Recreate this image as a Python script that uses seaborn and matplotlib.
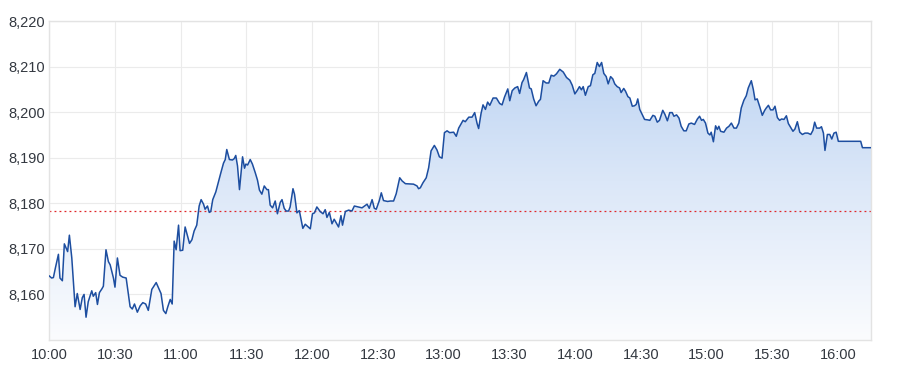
import numpy as np
import pandas as pd
import matplotlib
matplotlib.use("Agg")
import matplotlib.pyplot as plt
import seaborn as sns
from matplotlib.colors import LinearSegmentedColormap

# minutes after 10:00
minutes = [
    0, 1.2, 2.0, 3.0, 4.3, 5.0, 6.1, 7.0, 8.5, 9.3, 10.4, 11.9, 12.9, 14.2, 15.2, 16.0, 16.9, 17.9, 19.5, 20.2,
    21.3, 22.1, 23.0, 24.1, 24.8, 26.0, 27.1, 27.9, 29.4, 30.1, 31.2, 32.4, 33.6, 35.2, 37.0, 38.0, 39.0, 40.3, 41.6, 42.8,
    44.1, 45.3, 46.9, 48.9, 50.2, 51.1, 52.2, 53.3, 54.2, 55.3, 56.2, 57.1, 58.0, 59.1, 59.8, 61.0, 62.1, 64.1, 65.2, 66.2,
    67.4, 68.5, 69.4, 70.5, 71.2, 72.3, 73.1, 73.8, 74.7, 76.1, 77.3, 78.4, 79.6, 80.4, 81.1, 82.3, 83.7, 84.5, 85.2, 86.0,
    86.9, 88.3, 89.2, 89.8, 90.6, 91.8, 92.8, 94.1, 95.1, 96.0, 97.1, 98.2, 99.4, 100.1, 100.9, 102.0, 103.2, 104.2, 105.5, 106.3,
    107.3, 108.2, 109.3, 110.0, 111.3, 112.0, 113.1, 114.2, 115.8, 116.9, 119.2, 120.2, 121.1, 122.2, 123.7, 125.0, 126.0, 126.8, 127.9, 129.1,
    130.1, 132.1, 133.2, 133.9, 135.2, 136.7, 138.2, 139.3, 142.8, 145.1, 146.1, 147.4, 148.4, 149.3, 150.7, 151.6, 152.6, 154.5, 155.7, 157.2,
    158.4, 160.0, 161.1, 162.6, 166.3, 167.9, 168.6, 169.4, 170.6, 172.1, 173.2, 174.3, 175.8, 177.0, 178.1, 179.3, 180.4, 181.6, 182.8, 184.6,
    185.8, 186.9, 188.9, 189.9, 191.5, 193.0, 194.2, 195.3, 196.0, 197.1, 198.0, 199.1, 200.1, 201.1, 202.6, 204.1, 205.6, 206.7, 207.8, 209.3,
    210.2, 211.3, 212.5, 213.8, 214.7, 215.8, 216.5, 217.8, 219.2, 220.0, 221.1, 222.2, 223.4, 224.2, 225.4, 226.8, 228.0, 229.1, 230.3, 231.5,
    233.0, 234.6, 236.1, 237.6, 238.7, 239.9, 240.9, 242.0, 242.9, 243.7, 244.7, 246.0, 247.0, 248.1, 249.0, 250.1, 251.1, 252.1, 253.1, 254.2,
    255.1, 256.2, 257.2, 258.1, 259.2, 260.3, 261.0, 262.2, 263.0, 264.1, 265.0, 266.1, 267.1, 267.9, 268.6, 269.5, 270.6, 271.7, 273.2, 274.1,
    275.5, 276.4, 277.5, 278.5, 280.0, 281.0, 282.1, 283.2, 284.3, 285.1, 286.3, 287.4, 288.4, 289.6, 290.7, 291.9, 293.0, 294.5, 295.8, 296.8,
    297.7, 298.5, 299.5, 300.6, 301.5, 302.1, 303.1, 304.1, 304.9, 305.6, 306.4, 307.9, 309.1, 310.2, 311.3, 312.5, 313.6, 314.7, 315.8, 317.0,
    318.1, 319.0, 320.4, 321.3, 322.1, 323.1, 324.3, 325.4, 326.5, 327.2, 328.2, 329.2, 330.3, 331.2, 332.3, 333.3, 334.2, 335.3, 336.4, 337.3,
    338.4, 339.4, 340.3, 341.4, 342.5, 343.7, 344.9, 346.2, 347.5, 348.5, 349.3, 350.2, 351.6, 352.4, 353.3, 354.0, 355.1, 356.2, 357.1, 358.1,
    359.1, 360.1, 370.3, 371.1, 375.0,
]
prices = [
    8164.1, 8163.6, 8163.7, 8166.0, 8168.8, 8163.6, 8163.0, 8171.1, 8169.4, 8173.0, 8168.0, 8157.3, 8160.2, 8156.7, 8159.3, 8160.0, 8155.0, 8158.4, 8160.8, 8159.6,
    8160.4, 8157.8, 8160.4, 8161.2, 8161.8, 8169.8, 8167.2, 8166.5, 8163.6, 8161.6, 8168.0, 8164.2, 8163.8, 8163.6, 8157.3, 8156.8, 8157.9, 8156.1, 8157.5, 8158.2,
    8157.9, 8156.5, 8161.1, 8162.6, 8161.2, 8160.2, 8156.5, 8155.8, 8157.3, 8158.9, 8157.9, 8171.7, 8169.8, 8175.2, 8169.6, 8169.7, 8174.8, 8171.2, 8172.0, 8173.9,
    8175.2, 8179.4, 8180.8, 8179.8, 8178.7, 8179.4, 8178.0, 8178.2, 8180.8, 8182.5, 8184.7, 8186.7, 8188.8, 8189.6, 8191.8, 8189.6, 8189.5, 8189.8, 8190.5, 8188.2,
    8183.0, 8190.2, 8187.7, 8188.6, 8188.4, 8189.6, 8188.6, 8186.7, 8185.1, 8182.9, 8182.0, 8183.8, 8183.0, 8183.0, 8179.6, 8179.0, 8180.5, 8177.7, 8180.2, 8180.8,
    8178.9, 8178.3, 8178.3, 8179.2, 8183.2, 8182.0, 8177.9, 8178.4, 8174.5, 8175.4, 8174.4, 8177.7, 8177.9, 8179.2, 8178.2, 8177.7, 8178.6, 8176.9, 8178.0, 8175.5,
    8176.5, 8174.8, 8177.3, 8175.2, 8178.2, 8178.5, 8178.3, 8179.4, 8179.0, 8179.8, 8178.9, 8180.8, 8178.9, 8178.7, 8180.6, 8182.3, 8180.6, 8180.4, 8180.5, 8180.5,
    8182.1, 8185.6, 8184.9, 8184.3, 8184.2, 8183.8, 8183.2, 8183.4, 8184.5, 8185.6, 8187.8, 8191.5, 8192.7, 8191.7, 8190.2, 8189.9, 8195.5, 8195.9, 8195.5, 8195.6,
    8194.7, 8196.5, 8198.2, 8197.9, 8198.9, 8198.9, 8199.9, 8197.5, 8196.4, 8199.7, 8201.6, 8200.6, 8202.2, 8201.5, 8203.1, 8203.1, 8201.9, 8201.6, 8203.3, 8205.1,
    8202.5, 8204.7, 8205.3, 8205.6, 8204.1, 8206.5, 8207.1, 8208.7, 8205.3, 8205.1, 8202.9, 8201.4, 8202.4, 8202.8, 8206.9, 8206.4, 8206.4, 8208.1, 8207.9, 8208.4,
    8209.4, 8208.8, 8207.6, 8207.0, 8205.9, 8204.0, 8204.7, 8205.6, 8204.9, 8205.6, 8203.7, 8205.6, 8205.8, 8208.2, 8208.5, 8210.9, 8210.0, 8210.9, 8208.5, 8207.8,
    8206.2, 8207.8, 8207.3, 8206.2, 8205.6, 8205.3, 8204.3, 8205.2, 8204.6, 8203.4, 8203.1, 8201.3, 8201.4, 8201.7, 8202.9, 8200.6, 8199.5, 8198.4, 8198.3, 8198.2,
    8199.3, 8199.1, 8197.8, 8198.2, 8200.4, 8199.5, 8198.1, 8199.9, 8199.9, 8199.1, 8199.4, 8198.7, 8196.9, 8195.9, 8195.9, 8197.4, 8197.6, 8197.3, 8198.5, 8199.1,
    8198.2, 8198.4, 8197.6, 8195.4, 8195.0, 8195.6, 8193.5, 8197.0, 8196.2, 8196.9, 8195.8, 8195.6, 8196.5, 8196.9, 8197.6, 8196.5, 8196.5, 8197.6, 8200.9, 8202.6,
    8203.6, 8205.3, 8206.9, 8205.0, 8202.7, 8202.9, 8201.1, 8199.3, 8200.4, 8200.9, 8201.5, 8200.5, 8200.5, 8201.3, 8198.8, 8198.2, 8198.5, 8198.4, 8199.2, 8197.5,
    8196.6, 8195.8, 8196.3, 8197.9, 8195.6, 8195.1, 8195.4, 8195.4, 8195.1, 8196.0, 8197.8, 8196.5, 8196.5, 8196.8, 8195.4, 8191.6, 8195.1, 8195.1, 8194.1, 8195.4,
    8195.6, 8193.6, 8193.6, 8192.2, 8192.2,
]
reference_level = 8178.2
x_tick_minutes = [0, 30, 60, 90, 120, 150, 180, 210, 240, 270, 300, 330, 360]
x_tick_labels = ["10:00", "10:30", "11:00", "11:30", "12:00", "12:30", "13:00",
                 "13:30", "14:00", "14:30", "15:00", "15:30", "16:00"]
y_ticks = [8160, 8170, 8180, 8190, 8200, 8210, 8220]

sns.set_theme(style="white")
plt.rcParams["font.family"] = ["Liberation Sans", "DejaVu Sans"]

df = pd.DataFrame({"minute": minutes, "price": prices})

fig = plt.figure(figsize=(9, 3.75), dpi=100)
ax = fig.add_axes([49 / 900, 1 - 340 / 375, (871 - 49) / 900, (340 - 21) / 375])

x0, x1 = 0, 375
y0, y1 = 8150, 8220
ax.set_xlim(x0, x1)
ax.set_ylim(y0, y1)

# gradient fill under the line
poly = ax.fill_between(df["minute"], df["price"], y0, color="none", lw=0)
cmap = LinearSegmentedColormap.from_list("g", ["#fbfcfe", "#dbe7f8", "#b5cff1"])
grad = np.linspace(0, 1, 256).reshape(-1, 1)
im = ax.imshow(grad, extent=[x0, x1, y0, y1], origin="lower", aspect="auto",
               cmap=cmap, zorder=1, interpolation="bicubic")
path = poly.get_paths()[0]
im.set_clip_path(path, transform=ax.transData)

sns.lineplot(data=df, x="minute", y="price", ax=ax, color="#1d4ea0", lw=1.1, zorder=3)

ax.axhline(reference_level, color="#e0282a", lw=0.9, ls=(0, (1.5, 2.5)), zorder=2)

ax.set_xticks(x_tick_minutes)
ax.set_xticklabels(x_tick_labels)
ax.set_yticks(y_ticks)
ax.set_yticklabels([f"{v:,}" for v in y_ticks])
ax.grid(True, color="#ebebeb", lw=0.8)
ax.set_axisbelow(True)
for s in ax.spines.values():
    s.set_color("#e3e3e3")
    s.set_linewidth(1.0)
ax.tick_params(axis="both", length=0, labelsize=10.5, colors="#333840")
ax.tick_params(axis="x", pad=5.5)
ax.tick_params(axis="y", pad=3)
ax.set_xlabel("")
ax.set_ylabel("")

fig.savefig("out.png", dpi=100)
